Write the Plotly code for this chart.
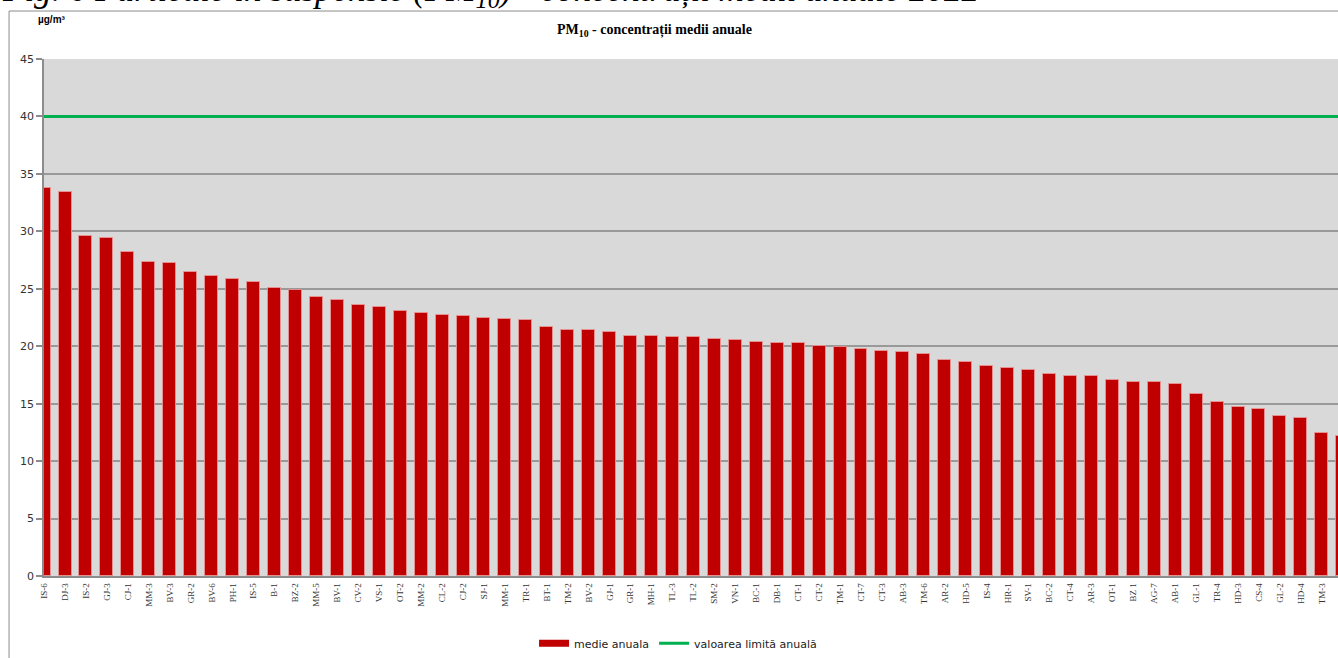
import plotly.graph_objects as go

# ---- data ----
stations = ["IS-6", "DJ-3", "IS-2", "GJ-3", "CJ-1", "MM-3", "BV-3", "GR-2", "BV-6", "PH-1",
            "IS-5", "B-1", "BZ-2", "MM-5", "BV-1", "CV-2", "VS-1", "OT-2", "MM-2", "CL-2",
            "CJ-2", "SJ-1", "MM-1", "TR-1", "BT-1", "TM-2", "BV-2", "GJ-1", "GR-1", "MH-1",
            "TL-3", "TL-2", "SM-2", "VN-1", "BC-1", "DB-1", "CT-1", "CT-2", "TM-1", "CT-7",
            "CT-3", "AB-3", "TM-6", "AR-2", "HD-5", "IS-4", "HR-1", "SV-1", "BC-2", "CT-4",
            "AR-3", "OT-1", "BZ 1", "AG-7", "AB-1", "GL-1", "TR-4", "HD-3", "CS-4", "GL-2",
            "HD-4", "TM-3"]
# last value belongs to a station whose label is cut off at the right edge
annual_mean = [33.8, 33.4, 29.6, 29.4, 28.2, 27.3, 27.25, 26.5, 26.1, 25.85,
               25.6, 25.1, 24.9, 24.3, 24.0, 23.6, 23.4, 23.1, 22.9, 22.75,
               22.6, 22.5, 22.35, 22.27, 21.65, 21.45, 21.45, 21.2, 20.93, 20.88,
               20.82, 20.77, 20.66, 20.52, 20.35, 20.26, 20.26, 20.03, 19.97, 19.8,
               19.56, 19.48, 19.3, 18.83, 18.66, 18.31, 18.1, 17.89, 17.56, 17.39,
               17.39, 17.1, 16.9, 16.9, 16.72, 15.82, 15.18, 14.68, 14.57, 13.9,
               13.73, 12.47, 12.18]
limit_value = 40
y_ticks = [0, 5, 10, 15, 20, 25, 30, 35, 40, 45]

positions = list(range(len(annual_mean)))

fig = go.Figure()
fig.add_trace(go.Bar(
    x=positions, y=annual_mean, width=0.62,
    marker=dict(color="#C00000", line=dict(color="rgba(235,150,150,0.85)", width=1)),
    name="medie anuala", showlegend=False,
))
# legend-only entry for bars (wide swatch like the reference)
fig.add_trace(go.Scatter(
    x=[None], y=[None], mode="lines", name="medie anuala",
    line=dict(color="#C00000", width=7),
))
fig.add_trace(go.Scatter(
    x=[-1, len(annual_mean) + 1], y=[limit_value, limit_value], mode="lines",
    name="valoarea limită anuală", line=dict(color="#00B050", width=3),
    cliponaxis=True,
))

fig.update_layout(
    width=1338, height=658,
    margin=dict(l=44, r=0, t=59, b=82),
    paper_bgcolor="white", plot_bgcolor="#D9D9D9",
    showlegend=True,
    legend=dict(orientation="h", x=0.49, xanchor="center", y=-0.13, yanchor="middle",
                font=dict(family="DejaVu Sans", size=11, color="#222"),
                bgcolor="rgba(0,0,0,0)", itemwidth=30, tracegroupgap=0),
    bargap=0,
)
fig.update_xaxes(
    range=[-0.003, 61.772], tickmode="array",
    tickvals=positions[:len(stations)], ticktext=stations,
    tickangle=-90, tickfont=dict(family="Liberation Serif", size=9, color="#333"),
    showgrid=False, zeroline=False, showline=True, linecolor="#8C8C8C", linewidth=1.5,
    ticks="", ticklabelstandoff=2,
)
fig.update_yaxes(
    range=[0, 45], tickmode="array", tickvals=y_ticks,
    tickfont=dict(family="DejaVu Sans", size=11, color="#333"),
    showgrid=True, gridcolor="#999999", gridwidth=1.5, zeroline=False,
    showline=True, linecolor="#8C8C8C", linewidth=1.5,
    ticks="outside", ticklen=6, tickcolor="#8C8C8C", tickwidth=1.5,
)

# chart frame (left and top border)
fig.add_shape(type="line", xref="paper", yref="paper", x0=-0.027, x1=1.05, y0=1.0928, y1=1.0928,
              line=dict(color="#8C8C8C", width=1))
fig.add_shape(type="line", xref="paper", yref="paper", x0=-0.027, x1=-0.027, y0=1.0928, y1=-0.3,
              line=dict(color="#8C8C8C", width=1))

fig.add_annotation(xref="paper", yref="paper", x=-0.034, y=1.086, xanchor="left", yanchor="bottom",
                   text="<i>Fig. 6 Particule în suspensie (PM<sub>10</sub>) - concentrații medii anuale 2022</i>",
                   showarrow=False, font=dict(family="Liberation Serif", size=35, color="black"))
fig.add_annotation(xref="paper", yref="paper", x=0.0062, y=1.077, xanchor="center", yanchor="middle",
                   text="<b>µg/m³</b>", showarrow=False,
                   font=dict(family="Liberation Sans", size=10, color="black"))
fig.add_annotation(xref="paper", yref="paper", x=0.472, y=1.056, xanchor="center", yanchor="middle",
                   text="<b>PM<sub>10</sub> - concentrații medii anuale</b>", showarrow=False,
                   font=dict(family="Liberation Serif", size=14, color="black"))

fig.write_html("out.html", post_script="document.body.style.margin='0';",
               config={"displayModeBar": False})
